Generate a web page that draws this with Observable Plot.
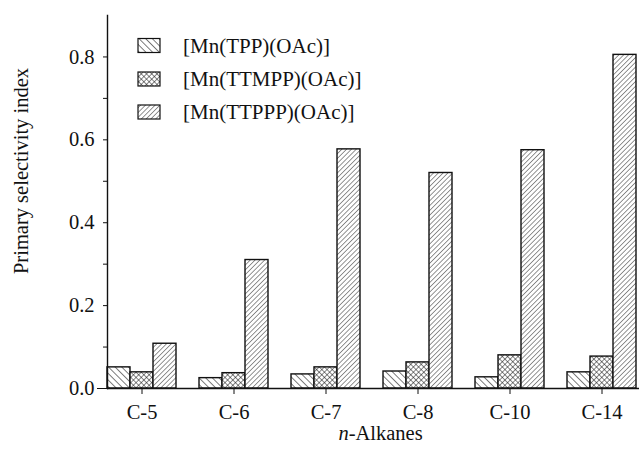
<!DOCTYPE html>
<html><head><meta charset="utf-8">
<script src="https://cdn.jsdelivr.net/npm/d3@7"></script>
<script src="https://cdn.jsdelivr.net/npm/@observablehq/plot@0.6"></script>
<style>
html,body{margin:0;padding:0;background:#fff;}
#wrap{position:relative;width:639px;height:452px;overflow:hidden;font-family:"Liberation Serif","Times New Roman","DejaVu Serif",serif;}
#wrap svg text{font-family:"Liberation Serif","Times New Roman","DejaVu Serif",serif;}
#legend{position:absolute;left:0;top:0;pointer-events:none;}
</style></head><body><div id="wrap"></div>
<script>
const alkanes = ["C-5", "C-6", "C-7", "C-8", "C-10", "C-14"];
const seriesNames = ["[Mn(TPP)(OAc)]", "[Mn(TTMPP)(OAc)]", "[Mn(TTPPP)(OAc)]"];
const tpp   = [0.051, 0.025, 0.034, 0.041, 0.027, 0.039];
const ttmpp = [0.039, 0.037, 0.051, 0.063, 0.080, 0.077];
const ttppp = [0.108, 0.310, 0.577, 0.520, 0.575, 0.805];
const yTicks = [0, 0.2, 0.4, 0.6, 0.8];
const yMinorTicks = [0.1, 0.3, 0.5, 0.7];
const xTitle = "n-Alkanes";
const yTitle = "Primary selectivity index";
const patternIds = ["hatchBack", "hatchCross", "hatchFwd"];

const values = [tpp, ttmpp, ttppp];
const data = [];
alkanes.forEach((a, i) => seriesNames.forEach((s, j) =>
  data.push({alkane: a, series: s, key: a + "|s" + j, value: values[j][i]})));
const xDomain = [];
alkanes.forEach((a, i) => {
  seriesNames.forEach((s, j) => xDomain.push(a + "|s" + j));
  if (i < alkanes.length - 1) xDomain.push("gap|" + i);
});

const font = '"Liberation Serif","Times New Roman","DejaVu Serif",serif';
const chart = Plot.plot({
  width: 639, height: 452,
  marginLeft: 107, marginRight: 0, marginTop: 15, marginBottom: 64,
  style: {fontFamily: font, fontSize: "20.5px", background: "#fff", color: "#111"},
  x: {type: "band", domain: xDomain, range: [103, 639], padding: 0},
  y: {domain: [0, 0.9]},
  color: {type: "ordinal", domain: seriesNames, range: patternIds.map(id => `url(#${id})`)},
  marks: [
    Plot.barY(data, {x: "key", y: "value", fill: "series", stroke: "#111", strokeWidth: 1.4}),
    Plot.ruleY([0], {stroke: "#111", strokeWidth: 1.4}),
    Plot.frame({anchor: "left", stroke: "#111", strokeWidth: 1.4}),
    Plot.axisY(yTicks, {tickSize: 4, tickPadding: 9, tickFormat: d3.format(".1f"), label: null}),
    Plot.axisY(yMinorTicks, {tickSize: 4, tickFormat: () => "", label: null}),
    Plot.axisY([0], {tickSize: 10, tickFormat: () => "", label: null}),
    Plot.axisY([], {label: yTitle, labelAnchor: "center", labelOffset: 94, labelArrow: "none"}),
    Plot.axisX(alkanes.map(a => a + "|s1"), {tickSize: 6, tickPadding: 10, tickFormat: k => k.split("|")[0], label: null}),
    Plot.axisX([], {label: xTitle, labelAnchor: "center", labelOffset: 51, labelArrow: "none"})
  ]
});

const defsHtml = `
<pattern id="hatchBack" patternUnits="userSpaceOnUse" width="4.7" height="10" patternTransform="rotate(-45)">
  <rect width="4.7" height="10" fill="#fff"/><line x1="0" y1="0" x2="0" y2="10" stroke="#111" stroke-width="1.1"/></pattern>
<pattern id="hatchCross" patternUnits="userSpaceOnUse" width="3.7" height="3.7" patternTransform="rotate(45)">
  <rect width="3.7" height="3.7" fill="#fff"/><line x1="0" y1="0" x2="0" y2="3.7" stroke="#111" stroke-width="1"/><line x1="0" y1="0" x2="3.7" y2="0" stroke="#111" stroke-width="1"/></pattern>
<pattern id="hatchFwd" patternUnits="userSpaceOnUse" width="3.4" height="10" patternTransform="rotate(45)">
  <rect width="3.4" height="10" fill="#fff"/><line x1="0" y1="0" x2="0" y2="10" stroke="#111" stroke-width="0.9"/></pattern>`;
d3.select(chart).insert("defs", ":first-child").html(defsHtml);

d3.select(chart).selectAll("text").filter(function() { return this.textContent === xTitle; }).each(function() {
  const t = d3.select(this);
  this.textContent = "";
  t.append("tspan").attr("font-style", "italic").text("n");
  t.append("tspan").text("-Alkanes");
  this.setAttribute("transform", "translate(7,0) " + (this.getAttribute("transform") || ""));
});
d3.select(chart).selectAll("text").filter(function() { return this.textContent === yTitle; }).each(function() {
  this.setAttribute("transform", "translate(0,-31) " + (this.getAttribute("transform") || ""));
});

const wrap = document.getElementById("wrap");
wrap.appendChild(chart);

const legendY = [38.5, 72, 105];
const legend = d3.select(wrap).append("svg").attr("id", "legend").attr("width", 639).attr("height", 452);
seriesNames.forEach((s, i) => {
  const g = legend.append("g");
  g.append("rect").attr("x", 138).attr("y", legendY[i]).attr("width", 22).attr("height", 14)
    .attr("fill", `url(#${patternIds[i]})`).attr("stroke", "#111").attr("stroke-width", 1.2);
  g.append("text").attr("x", 183).attr("y", legendY[i] + 14).attr("font-size", 21)
    .attr("fill", "#111").text(s);
});
</script></body></html>
